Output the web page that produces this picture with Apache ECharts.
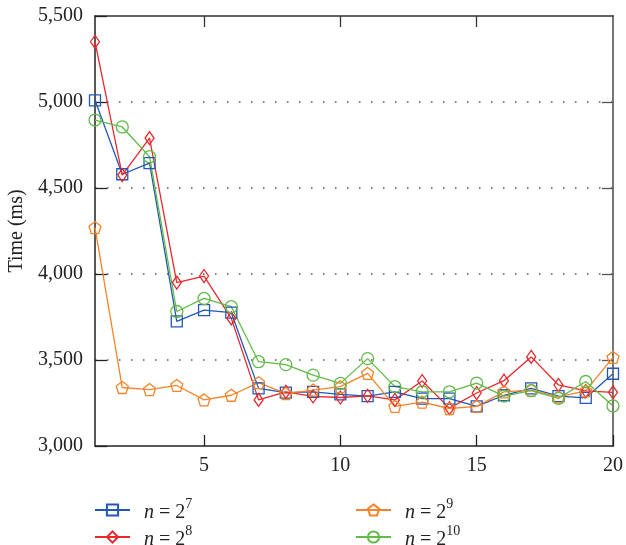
<!DOCTYPE html>
<html><head><meta charset="utf-8">
<script src="https://cdn.jsdelivr.net/npm/echarts@6/dist/echarts.min.js"></script>
<style>html,body{margin:0;padding:0;background:#fff}#c{width:626px;height:545px}</style>
</head><body><div id="c"></div><script>
const xValues = [1,2,3,4,5,6,7,8,9,10,11,12,13,14,15,16,17,18,19,20];
const seriesNames = ['n7','n8','n9','n10'];
const exponents = ['7','8','9','10'];
const s7  = [5010,4580,4645,3725,3790,3775,3335,3310,3315,3300,3290,3315,3275,3275,3230,3295,3335,3290,3280,3420];
const s8  = [5350,4575,4790,3950,3988,3742,3268,3315,3288,3282,3292,3268,3378,3220,3308,3380,3518,3355,3320,3312];
const s9  = [4270,3340,3328,3352,3268,3295,3368,3305,3325,3345,3422,3230,3255,3218,3230,3315,3325,3285,3320,3515];
const s10 = [4895,4855,4682,3782,3858,3810,3490,3473,3412,3364,3508,3345,3315,3315,3366,3290,3322,3277,3375,3233];
const xTicks = [5,10,15,20];
const yTicks = [3000,3500,4000,4500,5000,5500];
const yInnerTicks = [3500,4000,4500,5000];

const colors = ['#2357b8','#e8282d','#f5832a','#62bb47'];
const symbols = ['rect','diamond','path://M0,-1 L0.951,-0.309 L0.588,0.809 L-0.588,0.809 L-0.951,-0.309 Z','circle'];
const sizes = [11,[9,13],12,12];
const dataSets = [s7,s8,s9,s10];
const FONT = 'Liberation Serif';

const chart = echarts.init(document.getElementById('c'), null, {renderer:'canvas'});
const series = dataSets.map((d,i)=>({
  name: seriesNames[i],
  type: 'line',
  data: xValues.map((x,j)=>[x,d[j]]),
  symbol: symbols[i],
  symbolSize: sizes[i],
  showAllSymbol: true,
  lineStyle: {color: colors[i], width: 1.3},
  itemStyle: {color: 'rgba(255,255,255,0)', borderColor: colors[i], borderWidth: 1.3},
  emphasis: {disabled: true},
  animation: false,
  z: 3
}));

const legendRich = {
  i: {fontFamily: FONT, fontStyle: 'italic', fontSize: 20, lineHeight: 26, verticalAlign: 'bottom', padding: [0,0,0,9], color: '#222'},
  t: {fontFamily: FONT, fontSize: 20, lineHeight: 26, verticalAlign: 'bottom', color: '#222'},
  s: {fontFamily: FONT, fontSize: 14, lineHeight: 14, verticalAlign: 'top', color: '#222'}
};
function legendFmt(name){
  const k = seriesNames.indexOf(name);
  return '{i|n}{t| = 2}{s|' + exponents[k] + '}';
}
function mkLegend(left, names){
  return {
    data: names, left: left, top: 497, height: 70, width: 200, orient: 'vertical',
    padding: 0,
    itemWidth: 35, itemHeight: 14, itemGap: 1,
    formatter: legendFmt,
    textStyle: {rich: legendRich, fontFamily: FONT, fontSize: 20},
    selectedMode: false
  };
}

const option = {
  backgroundColor: '#fff',
  animation: false,
  grid: {left: 95, right: 13, top: 16, bottom: 99, containLabel: false, outerBoundsMode: 'none'},
  legend: [mkLegend(94, [seriesNames[0], seriesNames[1]]), mkLegend(355, [seriesNames[2], seriesNames[3]])],
  xAxis: [{
    type: 'value', min: 1, max: 20, position: 'bottom',
    axisLine: {show: true, onZero: false, lineStyle: {color: '#222', width: 1.5}},
    axisTick: {show: true, inside: true, length: 11, customValues: xTicks, lineStyle: {color: '#222', width: 1.3}},
    axisLabel: {show: true, customValues: xTicks, margin: 10, fontFamily: FONT, fontSize: 20, color: '#222'},
    splitLine: {show: false}
  },{
    type: 'value', min: 1, max: 20, position: 'top',
    axisLine: {show: true, onZero: false, lineStyle: {color: '#333', width: 1.5}},
    axisTick: {show: true, inside: true, length: 11, customValues: [5,10,15], lineStyle: {color: '#333', width: 1.3}},
    axisLabel: {show: false},
    splitLine: {show: false}
  }],
  yAxis: [{
    type: 'value', min: 3000, max: 5500, interval: 500, position: 'left',
    name: 'Time (ms)', nameLocation: 'middle', nameGap: 68,
    nameTextStyle: {fontFamily: FONT, fontSize: 20, color: '#222'},
    axisLine: {show: true, onZero: false, lineStyle: {color: '#222', width: 1.5}},
    axisTick: {show: true, inside: true, length: 12, lineStyle: {color: '#222', width: 1.3}},
    axisLabel: {margin: 12, fontFamily: FONT, fontSize: 20, color: '#222',
      formatter: v => v.toLocaleString('en-US')},
    splitLine: {show: true, showMinLine: false, showMaxLine: false,
      lineStyle: {color: '#555', width: 1.5, type: [1.5, 10.5]}}
  },{
    type: 'value', min: 3000, max: 5500, interval: 500, position: 'right',
    axisLine: {show: true, onZero: false, lineStyle: {color: '#777', width: 2}},
    axisTick: {show: true, inside: true, length: 11, customValues: yInnerTicks, lineStyle: {color: '#555', width: 1.3}},
    axisLabel: {show: false},
    splitLine: {show: false}
  }],
  series: series
};
chart.setOption(option);
</script></body></html>
